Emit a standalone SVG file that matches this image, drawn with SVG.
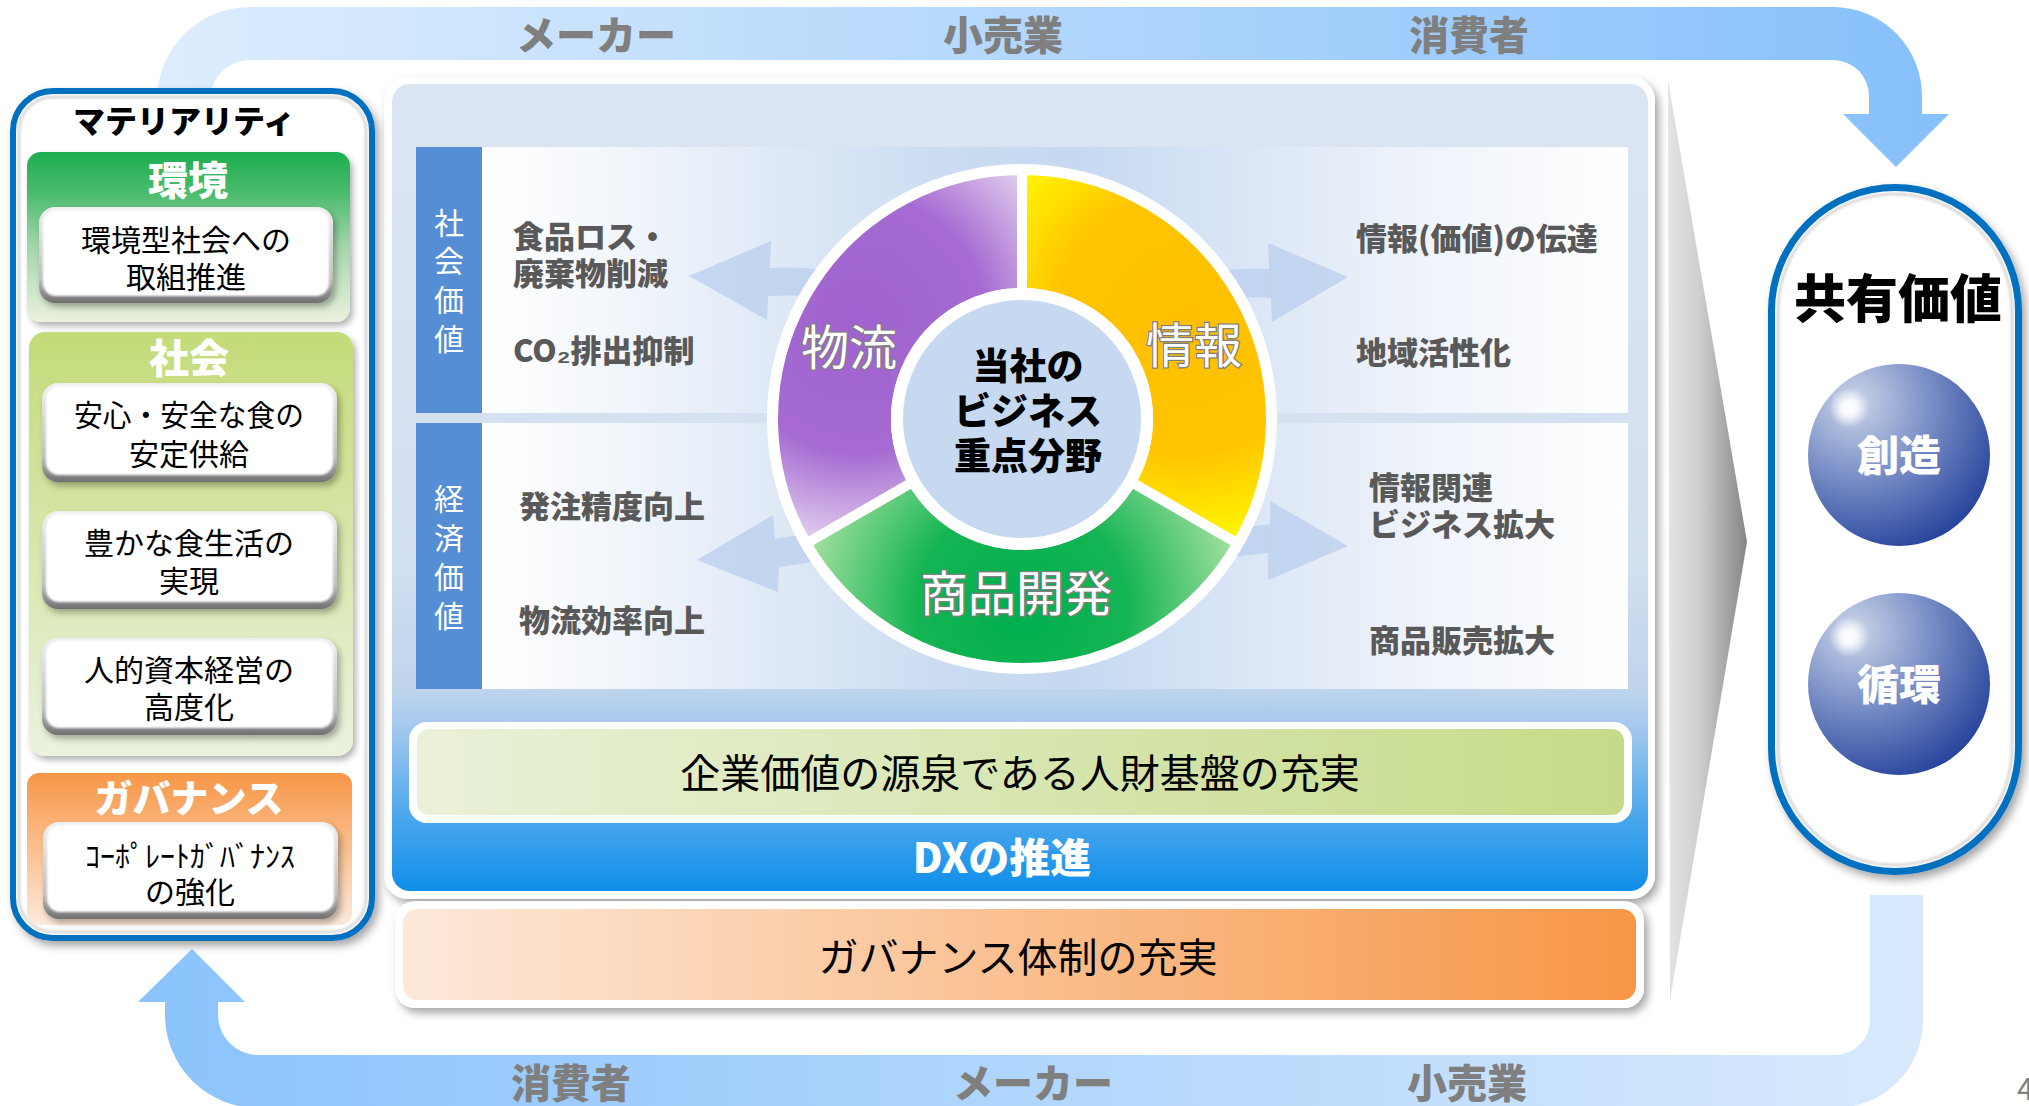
<svg xmlns="http://www.w3.org/2000/svg" width="2029" height="1106" viewBox="0 0 2029 1106">
<defs>
<style>
text { font-family: 'Noto Sans CJK JP', 'Noto Sans CJK SC', sans-serif; }
.flow { font-size:40px; font-weight:900; fill:#7F7F7F; text-anchor:middle; }
.mt { font-size:30px; fill:#000; text-anchor:middle; }
.sec { font-size:40px; font-weight:900; fill:#fff; text-anchor:middle; }
.vl { font-size:30px; fill:#fff; text-anchor:middle; }
.rt { font-size:31px; font-weight:900; fill:#595959; }
.seg { font-size:48px; fill:#fff; stroke:#7F7F7F; stroke-width:2.5px; paint-order:stroke; text-anchor:middle; }
.ct { font-size:37px; font-weight:900; fill:#000; text-anchor:middle; }
.bar { font-size:40px; fill:#000; text-anchor:middle; }
.sph { font-size:42px; font-weight:900; fill:#fff; text-anchor:middle; }
.bga { fill:#BBD0EE; opacity:0.8; }
.bev { fill:url(#gBev); }
.bin { fill:#fff; }
</style>
<filter id="sh" x="-10%" y="-10%" width="125%" height="125%"><feDropShadow dx="4" dy="5" stdDeviation="4" flood-color="#000" flood-opacity="0.35"/></filter>
<filter id="shs" x="-10%" y="-10%" width="125%" height="130%"><feDropShadow dx="3" dy="4" stdDeviation="3" flood-color="#000" flood-opacity="0.3"/></filter>
<filter id="blur1"><feGaussianBlur stdDeviation="1.2"/></filter>
<linearGradient id="gTop" gradientUnits="userSpaceOnUse" x1="157" y1="0" x2="1949" y2="0"><stop offset="0" stop-color="#DDEDFD"/><stop offset="1" stop-color="#86C0FB"/></linearGradient>
<linearGradient id="gBot" gradientUnits="userSpaceOnUse" x1="138" y1="0" x2="1923" y2="0"><stop offset="0" stop-color="#8AC3FC"/><stop offset="1" stop-color="#D8E9FC"/></linearGradient>
<linearGradient id="gPanel" x1="0" y1="0" x2="0" y2="1"><stop offset="0" stop-color="#DCE6F2"/><stop offset="0.6" stop-color="#D2DFEF"/><stop offset="0.751" stop-color="#BED4EC"/><stop offset="0.788" stop-color="#A9CBEE"/><stop offset="0.916" stop-color="#45A5EC"/><stop offset="1" stop-color="#0F8EE9"/></linearGradient>
<linearGradient id="gRow" gradientUnits="userSpaceOnUse" x1="482" y1="0" x2="1628" y2="0"><stop offset="0" stop-color="#FFFFFF"/><stop offset="0.12" stop-color="#F2F6FB"/><stop offset="0.4" stop-color="#CBDCF1"/><stop offset="0.52" stop-color="#C6D9F1"/><stop offset="0.8" stop-color="#EDF2FA"/><stop offset="1" stop-color="#FFFFFF"/></linearGradient>
<radialGradient id="gPur" gradientUnits="userSpaceOnUse" cx="858" cy="324" r="235"><stop offset="0" stop-color="#A063CF"/><stop offset="0.55" stop-color="#A66AD2"/><stop offset="1" stop-color="#EADFF3"/></radialGradient>
<radialGradient id="gYel" gradientUnits="userSpaceOnUse" cx="1186" cy="324" r="235"><stop offset="0" stop-color="#FFBF00"/><stop offset="0.55" stop-color="#FFC400"/><stop offset="1" stop-color="#FFFF00"/></radialGradient>
<radialGradient id="gGrn" gradientUnits="userSpaceOnUse" cx="1022" cy="609" r="235"><stop offset="0" stop-color="#00AF4E"/><stop offset="0.45" stop-color="#14B453"/><stop offset="1" stop-color="#B5E6A8"/></radialGradient>
<radialGradient id="gSph" cx="0.3" cy="0.25" r="0.85" fx="0.25" fy="0.2"><stop offset="0" stop-color="#CDD6E9"/><stop offset="0.45" stop-color="#7D92C8"/><stop offset="1" stop-color="#213F99"/></radialGradient>
<radialGradient id="gHi"><stop offset="0" stop-color="#FFFFFF"/><stop offset="0.35" stop-color="#FFFFFF" stop-opacity="0.9"/><stop offset="1" stop-color="#FFFFFF" stop-opacity="0"/></radialGradient>
<linearGradient id="gChev" gradientUnits="userSpaceOnUse" x1="1668" y1="0" x2="1747" y2="0"><stop offset="0" stop-color="#E4E4E4"/><stop offset="0.4" stop-color="#CFCFCF"/><stop offset="1" stop-color="#858585"/></linearGradient>
<linearGradient id="gEnv" x1="0" y1="0" x2="0" y2="1"><stop offset="0" stop-color="#1DAE50"/><stop offset="0.25" stop-color="#4DBC6E"/><stop offset="0.55" stop-color="#A3D5AA"/><stop offset="1" stop-color="#EBF1DE"/></linearGradient>
<linearGradient id="gSoc" x1="0" y1="0" x2="0" y2="1"><stop offset="0" stop-color="#C3DB78"/><stop offset="1" stop-color="#EBF2DF"/></linearGradient>
<linearGradient id="gGov" x1="0" y1="0" x2="0" y2="1"><stop offset="0" stop-color="#F79646"/><stop offset="1" stop-color="#FDEADB"/></linearGradient>
<linearGradient id="gBev" x1="0" y1="0" x2="0" y2="1"><stop offset="0" stop-color="#F0F0F0"/><stop offset="0.75" stop-color="#BFBFBF"/><stop offset="1" stop-color="#6F6F6F"/></linearGradient>
<linearGradient id="gGreen" x1="0" y1="0" x2="1" y2="0"><stop offset="0" stop-color="#EAF1D9"/><stop offset="1" stop-color="#C5DB89"/></linearGradient>
<linearGradient id="gOrg" x1="0" y1="0" x2="1" y2="0"><stop offset="0" stop-color="#FDE9DA"/><stop offset="1" stop-color="#F79646"/></linearGradient>
</defs>

<rect x="0" y="0" width="2029" height="1106" fill="#FFFFFF"/>

<g id="chevron">
<polygon points="1668,80 1747,542 1670,1000" fill="url(#gChev)"/>
</g>

<g id="panel">
<rect x="384" y="77" width="1271" height="822" rx="24" fill="#FFFFFF" filter="url(#sh)"/>
<rect x="392" y="84" width="1256" height="807" rx="18" fill="url(#gPanel)"/>
<g id="row-social">
<rect x="482" y="147" width="1146" height="266" fill="url(#gRow)"/>
<rect x="416" y="147" width="66" height="266" fill="#558ED5"/>
<text class="vl" x="449" y="234">社</text>
<text class="vl" x="449" y="272">会</text>
<text class="vl" x="449" y="311">価</text>
<text class="vl" x="449" y="350">値</text>
<text class="rt" x="513" y="248">食品ロス・</text>
<text class="rt" x="513" y="285">廃棄物削減</text>
<text class="rt" x="513" y="362">CO₂排出抑制</text>
<text class="rt" x="1356" y="250">情報(価値)の伝達</text>
<text class="rt" x="1356" y="364">地域活性化</text>
</g>
<g id="row-economic">
<rect x="482" y="423" width="1146" height="266" fill="url(#gRow)"/>
<rect x="416" y="423" width="66" height="266" fill="#558ED5"/>
<text class="vl" x="449" y="510">経</text>
<text class="vl" x="449" y="549">済</text>
<text class="vl" x="449" y="588">価</text>
<text class="vl" x="449" y="627">値</text>
<text class="rt" x="519" y="518">発注精度向上</text>
<text class="rt" x="519" y="632">物流効率向上</text>
<text class="rt" x="1369" y="499">情報関連</text>
<text class="rt" x="1369" y="536">ビジネス拡大</text>
<text class="rt" x="1369" y="652">商品販売拡大</text>
</g>
<g id="hr-base">
<rect x="409" y="722" width="1223" height="101" rx="18" fill="#FFFFFF"/>
<rect x="417" y="729" width="1207" height="86" rx="12" fill="url(#gGreen)"/>
<text class="bar" x="1020" y="788">企業価値の源泉である人財基盤の充実</text>
</g>
<g id="dx">
<text x="1002" y="873" font-size="41" font-weight="900" fill="#FFFFFF" text-anchor="middle">DXの推進</text>
</g>
</g>

<g id="connectors">
<path class="bga" d="M689,276 L771,241 L770,268 Q800,266 840,272 L840,299 Q800,294 768,296 L767,320 Z"/>
<path class="bga" d="M697,560 L773,515 L775,539 Q805,533 840,532 L840,560 Q808,562 779,567 L778,592 Z"/>
<path class="bga" d="M1348,277 L1268,243 L1269,269 Q1240,268 1205,272 L1205,300 Q1240,296 1271,298 L1272,322 Z"/>
<path class="bga" d="M1348,546 L1270,501 L1270,524 Q1240,528 1205,532 L1205,560 Q1240,556 1268,553 L1268,580 Z"/>
<path id="flow-top" fill="url(#gTop)" d="M157,100 A93,93 0 0 1 250,7 H1833 A89,89 0 0 1 1922,96 V114 H1949 L1896,167 L1843,114 H1869 V96 A36,36 0 0 0 1833,60 H250 A40,40 0 0 0 210,100 Z"/>
<path id="flow-bottom" fill="url(#gBot)" d="M1870,895 H1923 V1020 A88,88 0 0 1 1835,1108 H258 A93,93 0 0 1 165,1015 V1002 H138 L192,949 L245,1002 H218 V1015 A40,40 0 0 0 258,1055 H1835 A35,35 0 0 0 1870,1020 Z"/>
<text class="flow" x="596" y="50">メーカー</text>
<text class="flow" x="1003" y="50">小売業</text>
<text class="flow" x="1469" y="50">消費者</text>
<text class="flow" x="571" y="1098">消費者</text>
<text class="flow" x="1033" y="1098">メーカー</text>
<text class="flow" x="1467" y="1098">小売業</text>
</g>

<g id="core">
<circle cx="1022" cy="419" r="255" fill="#FFFFFF"/>
<g id="seg-logistics">
<path d="M806.4,543.5 A249,249 0 0 1 1022,170 L1022,293 A126,126 0 0 0 912.9,482 Z" fill="url(#gPur)" stroke="#FFFFFF" stroke-width="10"/>
<text class="seg" x="849" y="365">物流</text>
</g>
<g id="seg-info">
<path d="M1022,170 A249,249 0 0 1 1237.6,543.5 L1131.1,482 A126,126 0 0 0 1022,293 Z" fill="url(#gYel)" stroke="#FFFFFF" stroke-width="10"/>
<text class="seg" x="1194" y="363">情報</text>
</g>
<g id="seg-product">
<path d="M1237.6,543.5 A249,249 0 0 1 806.4,543.5 L912.9,482 A126,126 0 0 0 1131.1,482 Z" fill="url(#gGrn)" stroke="#FFFFFF" stroke-width="10"/>
<text class="seg" x="1016" y="611">商品開発</text>
</g>
<g id="center">
<circle cx="1022" cy="419" r="125" fill="#C6D9F1" stroke="#FFFFFF" stroke-width="12"/>
<text class="ct" x="1028" y="380">当社の</text>
<text class="ct" x="1028" y="425">ビジネス</text>
<text class="ct" x="1028" y="470">重点分野</text>
</g>
</g>

<g id="governance-bar">
<rect x="395" y="901" width="1249" height="107" rx="20" fill="#FFFFFF" filter="url(#sh)"/>
<rect x="403" y="909" width="1233" height="91" rx="14" fill="url(#gOrg)"/>
<text class="bar" x="1018" y="972">ガバナンス体制の充実</text>
</g>

<g id="materiality">
<rect x="13" y="91" width="359" height="847" rx="40" fill="#FFFFFF" stroke="#0070C0" stroke-width="6" filter="url(#sh)"/>
<rect x="19" y="97" width="347" height="835" rx="34" fill="none" stroke="#BFBFBF" stroke-width="3" filter="url(#blur1)" opacity="0.6"/>
<text x="184" y="133" font-size="32" font-weight="900" fill="#000" text-anchor="middle">マテリアリティ</text>
<g id="mat-env">
<rect x="27" y="152" width="323" height="170" rx="14" fill="url(#gEnv)" filter="url(#shs)"/>
<text class="sec" x="188" y="195">環境</text>
<rect class="bev" x="39" y="207" width="294" height="96" rx="16" filter="url(#shs)"/>
<rect class="bin" x="43" y="210" width="286" height="86" rx="13" filter="url(#blur1)"/>
<text class="mt" x="186" y="251">環境型社会への</text>
<text class="mt" x="186" y="288">取組推進</text>
</g>
<g id="mat-soc">
<rect x="29" y="332" width="324" height="424" rx="16" fill="url(#gSoc)" filter="url(#shs)"/>
<text class="sec" x="189" y="373">社会</text>
<rect class="bev" x="42" y="383" width="295" height="99" rx="16" filter="url(#shs)"/>
<rect class="bin" x="46" y="386" width="287" height="89" rx="13" filter="url(#blur1)"/>
<text class="mt" x="189" y="426" textLength="230" lengthAdjust="spacingAndGlyphs">安心・安全な食の</text>
<text class="mt" x="189" y="465">安定供給</text>
<rect class="bev" x="42" y="511" width="295" height="98" rx="16" filter="url(#shs)"/>
<rect class="bin" x="46" y="514" width="287" height="88" rx="13" filter="url(#blur1)"/>
<text class="mt" x="189" y="554">豊かな食生活の</text>
<text class="mt" x="189" y="592">実現</text>
<rect class="bev" x="42" y="638" width="295" height="97" rx="16" filter="url(#shs)"/>
<rect class="bin" x="46" y="641" width="287" height="87" rx="13" filter="url(#blur1)"/>
<text class="mt" x="189" y="681">人的資本経営の</text>
<text class="mt" x="189" y="718">高度化</text>
</g>
<g id="mat-gov">
<rect x="27" y="773" width="325" height="152" rx="12" fill="url(#gGov)"/>
<text class="sec" x="189" y="812" style="font-size:38px">ガバナンス</text>
<rect class="bev" x="43" y="822" width="295" height="97" rx="16" filter="url(#shs)"/>
<rect class="bin" x="47" y="825" width="287" height="87" rx="13" filter="url(#blur1)"/>
<text class="mt" x="190" y="867">ｺｰﾎﾟﾚｰﾄｶﾞﾊﾞﾅﾝｽ</text>
<text class="mt" x="190" y="903">の強化</text>
</g>
</g>

<g id="shared-value">
<rect x="1771.5" y="187.5" width="247" height="684" rx="123.5" fill="#FFFFFF" stroke="#0070C0" stroke-width="7" filter="url(#sh)"/>
<rect x="1778" y="194" width="234" height="671" rx="117" fill="none" stroke="#BFBFBF" stroke-width="3" filter="url(#blur1)" opacity="0.6"/>
<text x="1898" y="318" font-size="52" font-weight="900" fill="#000" text-anchor="middle">共有価値</text>
<g id="sphere-create">
<circle cx="1899" cy="455" r="91" fill="url(#gSph)"/>
<circle cx="1849" cy="408" r="20" fill="url(#gHi)"/>
<text class="sph" x="1899" y="471">創造</text>
</g>
<g id="sphere-cycle">
<circle cx="1899" cy="684" r="91" fill="url(#gSph)"/>
<circle cx="1849" cy="637" r="20" fill="url(#gHi)"/>
<text class="sph" x="1899" y="700">循環</text>
</g>
</g>

<text x="2017" y="1100" font-size="30" fill="#7F7F7F">4</text>
</svg>
